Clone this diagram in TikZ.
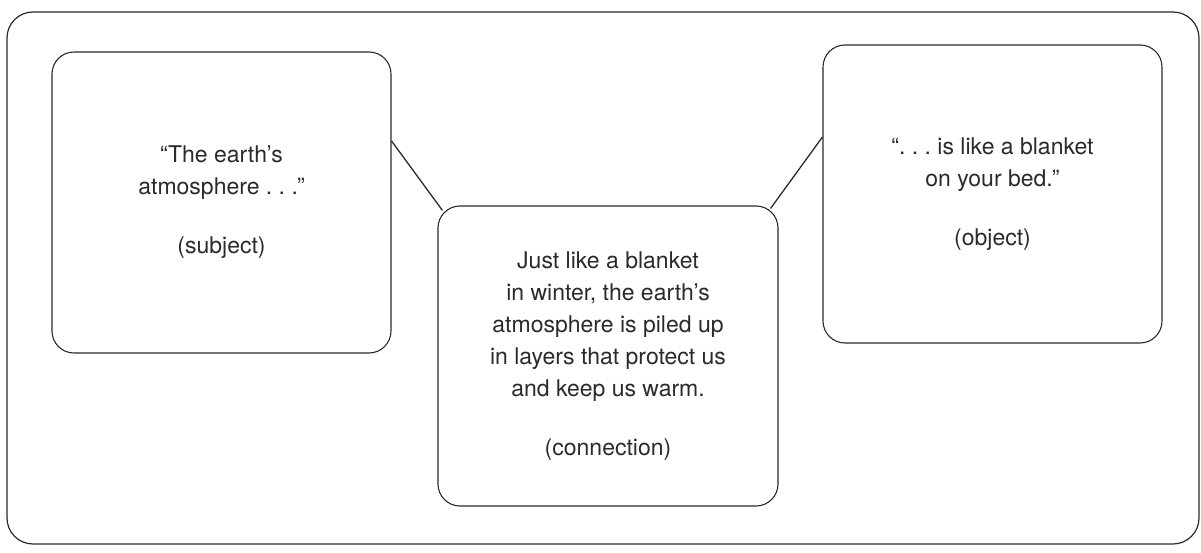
\documentclass[tikz,border=0pt]{standalone}
\usepackage{fontspec}
\setmainfont{TeX Gyre Heros}
\definecolor{ink}{HTML}{2A2A2A}
\begin{document}
\begin{tikzpicture}[x=1pt,y=-1pt,
  card/.style={draw=ink, line width=1.1pt, rounded corners=22pt, align=center,
    text=ink, font=\fontsize{23}{32}\selectfont, inner sep=0pt},
  link/.style={draw=ink, line width=1.3pt}]
\useasboundingbox (0,0) rectangle (1201,553);
\node[draw=ink, line width=1.2pt, rounded corners=26pt, minimum width=1192pt,
  minimum height=532pt, inner sep=0pt] (frame) at (603,278) {};
\node[card, minimum width=339pt, minimum height=301pt] (subj) at (221.5,202.5)
  {``The earth's\\ atmosphere .\ .\ .''\\[27pt] (subject)};
\node[card, minimum width=340pt, minimum height=300pt] (conn) at (608,356)
  {Just like a blanket\\ in winter, the earth's\\ atmosphere is piled up\\
   in layers that protect us\\ and keep us warm.\\[27pt] (connection)};
\node[card, minimum width=339pt, minimum height=298pt] (obj) at (992.5,194)
  {``.\ .\ .\ is like a blanket\\ on your bed.''\\[27pt] (object)};
\draw[link] ([yshift=61.5pt]subj.east) -- ([xshift=5pt,yshift=-5pt]conn.north west);
\draw[link] ([xshift=-8pt,yshift=-3pt]conn.north east) -- ([yshift=57pt]obj.west);
\end{tikzpicture}
\end{document}
